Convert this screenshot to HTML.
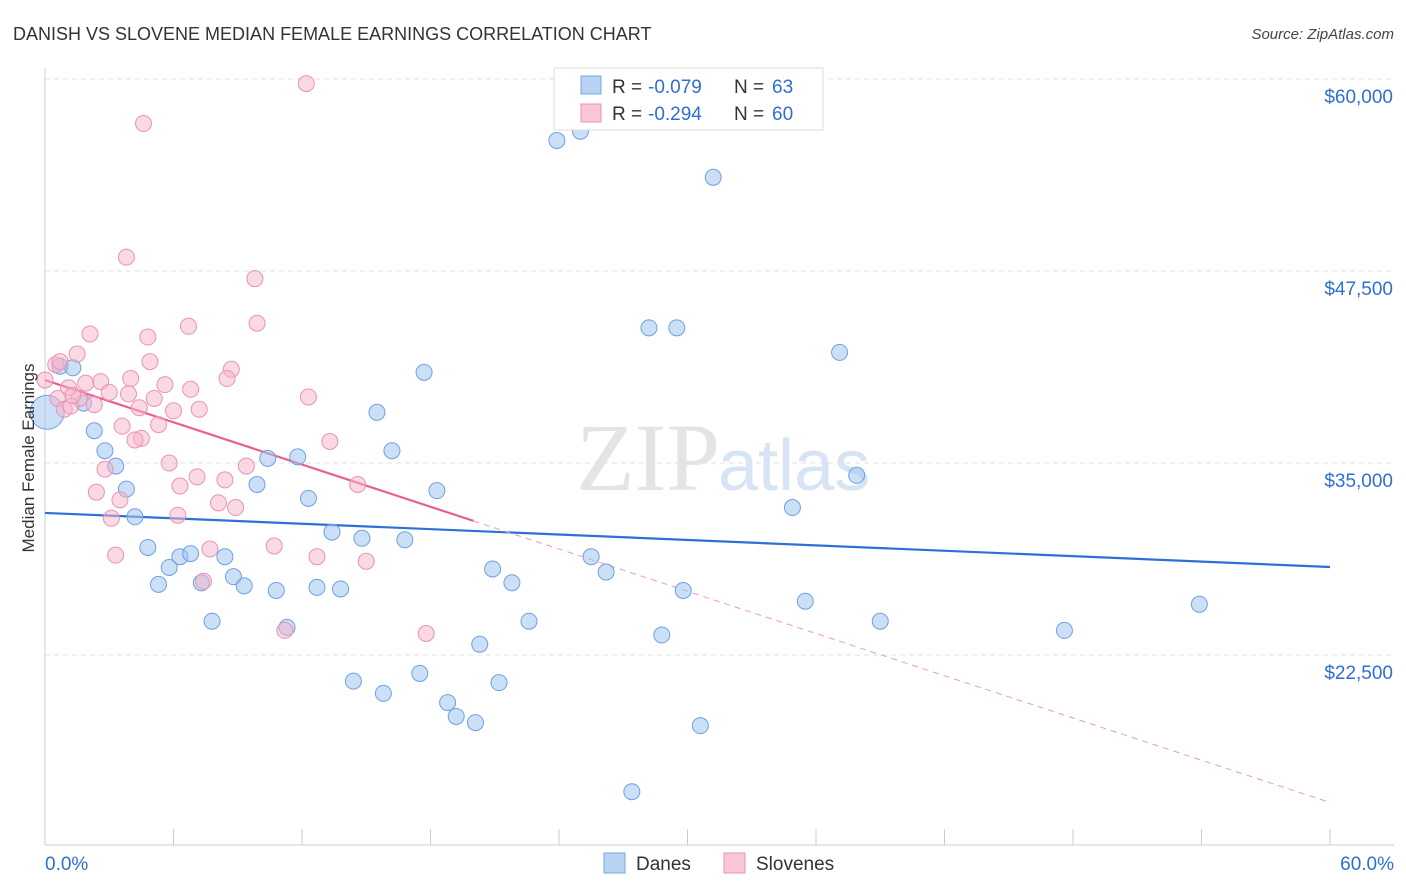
<!DOCTYPE html>
<html><head><meta charset="utf-8"><style>
body{margin:0;background:#fff;font-family:"Liberation Sans",sans-serif;}
svg{display:block}
</style></head><body>
<svg id="chart" width="1406" height="892" xmlns="http://www.w3.org/2000/svg">
<text x="13" y="40" font-size="18" fill="#333">DANISH VS SLOVENE MEDIAN FEMALE EARNINGS CORRELATION CHART</text>
<text x="1394" y="39" font-size="15" fill="#444" text-anchor="end" font-style="italic">Source: ZipAtlas.com</text>
<text x="720" y="490" font-size="96" fill="#e4e4e4" text-anchor="end" font-family="Liberation Serif">ZIP</text>
<text x="718" y="490" font-size="72" fill="#d6e4f5">atlas</text>
<g id="grid"></g>
<g id="axes"></g>
<g id="lines"></g>
<g id="points"></g>
<text transform="translate(34,458) rotate(-90)" font-size="17" fill="#333" text-anchor="middle">Median Female Earnings</text>
<g>
<rect x="554" y="68" width="269" height="62" fill="#fff" stroke="#ddd"/>
<rect x="581" y="76" width="20" height="18" fill="#b8d2f2" stroke="#7aa8e0"/>
<text x="612" y="93" font-size="19" fill="#333">R =</text>
<text x="648" y="93" font-size="19" fill="#2f6fd1">-0.079</text>
<text x="734" y="93" font-size="19" fill="#333">N =</text>
<text x="772" y="93" font-size="19" fill="#2f6fd1">63</text>
<rect x="581" y="104" width="20" height="18" fill="#f8c6d6" stroke="#e994b1"/>
<text x="612" y="120" font-size="19" fill="#333">R =</text>
<text x="648" y="120" font-size="19" fill="#2f6fd1">-0.294</text>
<text x="734" y="120" font-size="19" fill="#333">N =</text>
<text x="772" y="120" font-size="19" fill="#2f6fd1">60</text>
</g>
<g><rect x="604" y="853" width="21" height="20" fill="#b8d2f2" stroke="#7aa8e0"/><text x="636" y="870" font-size="19" fill="#333">Danes</text></g>
<g><rect x="724" y="853" width="21" height="20" fill="#f8c6d6" stroke="#e994b1"/><text x="756" y="870" font-size="19" fill="#333">Slovenes</text></g>
</svg>
<script>
const yTicks=[22500,35000,47500,60000];
const yTickLabels=["$22,500","$35,000","$47,500","$60,000"];
const xTicks=[0,6,12,18,24,30,36,42,48,54,60];
const danesX=[23.9,25.0,31.2,28.2,29.5,37.1,17.7,15.5,16.2,18.3,37.9,34.9,0.7,1.3,1.8,2.3,2.8,3.3,3.8,4.2,4.8,5.3,5.8,6.3,6.8,7.3,7.8,8.4,8.8,9.3,9.9,10.4,10.8,11.3,11.8,12.3,12.7,13.4,13.8,14.8,14.4,15.8,16.8,17.5,18.8,19.2,20.1,20.3,20.9,21.2,21.8,22.6,25.5,26.2,27.4,28.8,29.8,30.6,35.5,39.0,47.6,53.9,0.1];
const danesY=[56000,56600,53600,43800,43800,42200,40900,38300,35800,33200,34200,32100,41300,41200,38900,37100,35800,34800,33300,31500,29500,27100,28200,28900,29100,27200,24700,28900,27600,27000,33600,35300,26700,24300,35400,32700,26900,30500,26800,30100,20800,20000,30000,21300,19400,18500,18100,23200,28100,20700,27200,24700,28900,27900,13600,23800,26700,17900,26000,24700,24100,25800,38300];
const slovX=[12.2,4.6,3.8,9.8,9.9,6.7,2.1,4.8,1.5,4.9,0.5,8.7,8.5,4.0,2.6,5.6,6.8,1.1,3.0,3.9,0.6,1.6,12.3,5.1,2.3,0.9,7.2,6.0,3.6,5.3,4.5,4.2,13.3,9.4,5.8,2.8,7.1,8.4,6.3,14.6,2.4,3.5,8.1,8.9,6.2,3.1,10.7,7.7,12.7,3.3,15.0,7.4,11.2,17.8,0.7,1.9,1.2,0.0,4.4,1.3];
const slovY=[59700,57100,48400,47000,44100,43900,43400,43200,42100,41600,41400,41100,40500,40500,40300,40100,39800,39900,39600,39500,39200,39200,39300,39200,38800,38500,38500,38400,37400,37500,36600,36500,36400,34800,35000,34600,34100,33900,33500,33600,33100,32600,32400,32100,31600,31400,29600,29400,28900,29000,28600,27300,24100,23900,41600,40200,38700,40400,38600,39400];
const danesTrend=[31750,28230];
const slovTrend=[40400,12900];
const NS="http://www.w3.org/2000/svg";
const sx=v=>45+v/60*1285;
const sy=v=>79+(60000-v)/12500*192;
function mk(tag,attrs,parent){const e=document.createElementNS(NS,tag);for(const k in attrs)e.setAttribute(k,attrs[k]);document.getElementById(parent).appendChild(e);return e;}
yTicks.forEach((t,i)=>{
 const l=mk('line',{x1:45,x2:1394,y1:sy(t),y2:sy(t),stroke:'#e2e2e2','stroke-dasharray':'5,4'},'grid');
 
 
 const tx=mk('text',{x:1393,y:sy(t)+24,'font-size':19,fill:'#2f6fd1','text-anchor':'end'},'axes');
 tx.textContent=yTickLabels[i];
 
 
});
const ax=mk('line',{x1:45,x2:45,y1:68,y2:845,stroke:'#ccc'},'axes');


const bx=mk('line',{x1:45,x2:1394,y1:845,y2:845,stroke:'#ccc'},'axes');


xTicks.forEach(t=>{
 const l=mk('line',{x1:sx(t),x2:sx(t),y1:829,y2:845,stroke:'#ccc'},'axes');
 
 
});
const x0=mk('text',{x:45,y:870,'font-size':19,fill:'#2f6fd1'},'axes');x0.textContent='0.0%';


const x1=mk('text',{x:1394,y:870,'font-size':19,fill:'#2f6fd1','text-anchor':'end'},'axes');x1.textContent='60.0%';


danesX.forEach((x,i)=>{
 const big=i===danesX.length-1;
 const c=mk('circle',{cx:sx(x),cy:sy(danesY[i]),r:big?17:8,fill:'rgba(160,196,240,0.55)',stroke:'#6fa0e0','stroke-width':1},'points');
 
 
});
slovX.forEach((x,i)=>{
 const c=mk('circle',{cx:sx(x),cy:sy(slovY[i]),r:8,fill:'rgba(245,180,202,0.5)',stroke:'#eb92b2','stroke-width':1},'points');
 
 
});
const bl=mk('line',{x1:sx(0),y1:sy(danesTrend[0]),x2:sx(60),y2:sy(danesTrend[1]),stroke:'#2e70d6','stroke-width':2.2},'lines');


const pAt=x=>slovTrend[0]+(slovTrend[1]-slovTrend[0])*x/60;
const ps=mk('line',{x1:sx(0),y1:sy(pAt(0)),x2:sx(20),y2:sy(pAt(20)),stroke:'#e8608e','stroke-width':2.2},'lines');


const pd=mk('line',{x1:sx(20),y1:sy(pAt(20)),x2:sx(60),y2:sy(pAt(60)),stroke:'#eb9ab6','stroke-width':1,'stroke-dasharray':'6,5'},'lines');


</script>
</body></html>
